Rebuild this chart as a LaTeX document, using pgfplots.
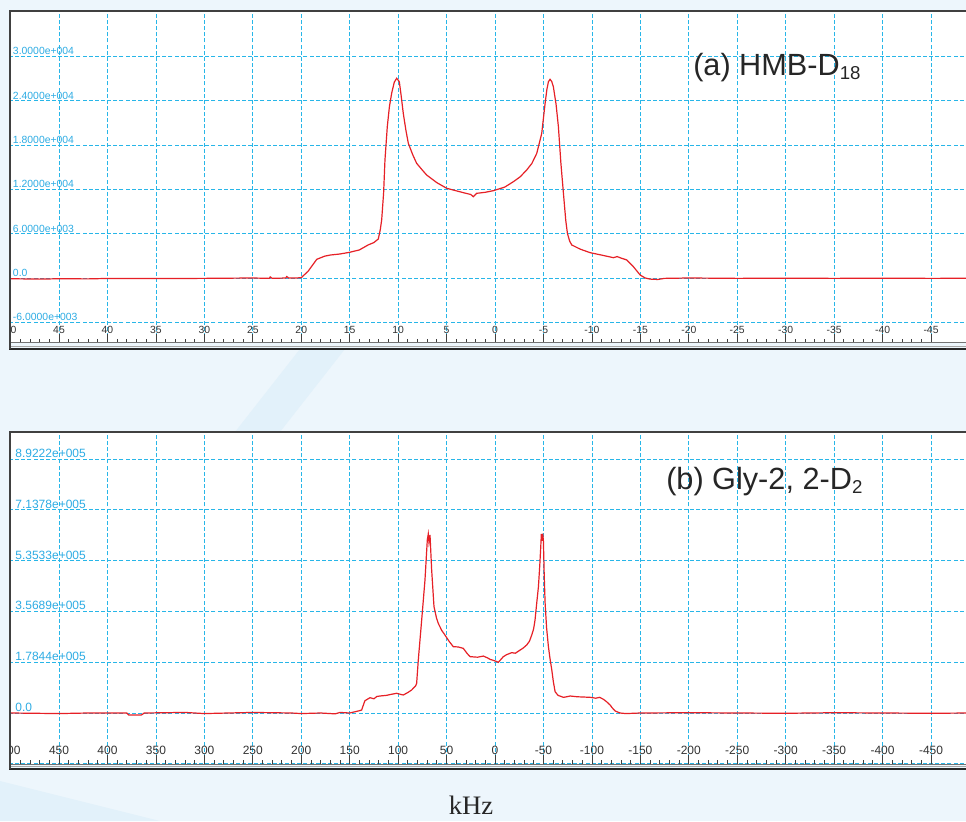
\documentclass[border=0pt]{standalone}
\usepackage{pgfplots}
\pgfplotsset{compat=1.18}
\usepackage{fontspec}
\setmainfont{Liberation Sans}
\newfontfamily\seriffont{Liberation Serif}

\definecolor{gridc}{RGB}{40,182,232}
\definecolor{labc}{RGB}{45,172,228}
\definecolor{curve}{RGB}{230,32,38}
\definecolor{bg}{RGB}{237,246,252}
\definecolor{bg2}{RGB}{226,241,250}

\pgfplotsset{spec/.style={
    scale only axis, width=719.4pt, height=249pt,
    anchor=south west,
    x dir=reverse,
    axis background/.style={fill=white},
    axis line style={draw=none},
    grid=major,
    major grid style={gridc, line width=0.6pt, dash pattern=on 3pt off 1.6pt},
    xtick pos=left, tick align=inside,
    major tick length=6.75pt, minor tick length=2.8pt,
    minor x tick num=4,
    ytick style={draw=none},
    xtick style={draw=black!75, line width=0.6pt},
    scaled ticks=false,
    /pgf/number format/assume math mode=true,
    yticklabel style={anchor=south west, inner sep=0pt, text=labc},
    xticklabel style={anchor=south, inner sep=0pt, text=black!80},
}}

\begin{document}
\begin{tikzpicture}[x=0.75pt,y=0.75pt]
\path[use as bounding box] (0,0) rectangle (966,821);
\fill[bg] (0,0) rectangle (966,821);
\fill[bg2] (235,389) -- (300,472) -- (345,472) -- (280,389) -- cycle;
\fill[bg2] (0,0) -- (0,40) -- (160,0) -- cycle;

\begin{scope}
\clip (9,0) rectangle (966,821);
% (a) HMB-D18
\begin{axis}[spec, at={(7.95pt,358.5pt)},
    xmin=-49, xmax=50, ymin=-8797, ymax=36138,
    xtick={-45,-40,...,50},
    ytick={-6000,0,6000,12000,18000,24000,30000},
    yticklabels={-6.0000e+003,0.0,6.0000e+003,1.2000e+004,1.8000e+004,2.4000e+004,3.0000e+004},
    yticklabel style={font=\fontsize{7.8}{8}\selectfont, xshift=1.6pt, yshift=0.8pt},
    xticklabel style={font=\fontsize{7.8}{8}\selectfont, yshift=7.2pt},
]
\addplot[curve, line width=0.9pt] coordinates {
(50,-100)(47,-150)(45,-100)(42,-120)(40,-60)(35,-80)(30,-50)(25,0)(23.3,-50)(23.2,150)(23,-50)
(21.6,0)(21.5,200)(21.3,0)(20.5,0)(20,50)(19.3,900)(18.4,2530)(17.6,2950)(17.0,3110)(16,3250)
(15,3480)(14,3800)(13.1,4470)(12.5,4800)(12.05,5280)(11.85,6500)(11.7,7850)(11.5,11500)
(11.36,15970)(11.12,20480)(10.9,23200)(10.67,25000)(10.4,26500)(10.15,27030)(9.88,26570)
(9.7,24800)(9.47,22290)(9.2,20000)(8.95,18230)(8.5,16700)(8.09,15520)(7.5,14600)(7.06,13940)
(6,12900)(4.99,12140)(4,11800)(3.27,11550)(2.5,11300)(2.24,11000)(1.89,11460)(1,11600)
(0.17,11820)(-1,12300)(-1.89,13030)(-2.6,13700)(-3.27,14620)(-3.8,15500)(-4.31,16880)
(-4.82,19580)(-5.17,23650)(-5.35,25500)(-5.51,26570)(-5.68,26890)(-5.85,26600)(-6.02,25890)
(-6.3,23500)(-6.54,20480)(-6.8,15500)(-7.06,11460)(-7.3,7800)(-7.47,6050)(-7.7,5000)
(-7.92,4470)(-8.8,3900)(-9.81,3430)(-11,3100)(-12.22,2750)(-12.6,2900)(-13,2700)(-13.6,2440)
(-14.3,1500)(-14.98,400)(-15.5,0)(-16,-150)(-16.8,-200)(-17.5,-50)(-20,0)(-25,-50)(-30,-30)
(-35,-50)(-40,-30)(-45,-50)(-49,-40)
};
\end{axis}

% (b) Gly-2, 2-D2
\begin{axis}[spec, at={(7.95pt,42.75pt)},
    xmin=-490, xmax=500, ymin=-179150, ymax=987100,
    xtick={-450,-400,...,500},
    ytick={-178444,0,178444,356888,535332,713776,892220},
    yticklabels={,0.0,1.7844e+005,3.5689e+005,5.3533e+005,7.1378e+005,8.9222e+005},
    yticklabel style={font=\fontsize{9}{10}\selectfont, xshift=3.4pt, yshift=0.8pt},
    xticklabel style={font=\fontsize{9}{10}\selectfont, yshift=7.2pt},
]
\addplot[curve, line width=0.9pt] coordinates {
(500,0)(450,-2000)(420,0)(380,0)(378,-7000)(365,-7000)(362,0)(320,2000)(300,-2000)(275,0)
(250,2000)(210,0)(200,-2000)(180,0)(165,-3000)(160,2000)(150,0)(145,4000)(140,8000)
(137.7,10500)(134.3,43200)(129.1,53800)(125,50000)(122,58000)(118.8,59700)(112,62000)
(108,65000)(101.6,69200)(98,66000)(94.7,63200)(90,72000)(86.1,80800)(82,95000)(80.9,104300)
(79.2,186200)(75.7,326700)(72.3,467200)(69.9,607700)(68.9,628800)(68.2,600000)(67.1,625300)
(66.2,560000)(65.4,502300)(63,373500)(60.5,335000)(58.6,315000)(55,290000)(51.7,274000)
(47,250000)(43.1,233000)(38,232000)(32.7,227000)(29,210000)(25.8,198000)(18,196000)
(12.1,200000)(8,194000)(5.2,188600)(0,183000)(-3.4,178000)(-6,188000)(-8.6,198000)
(-12,205000)(-17.2,212000)(-21,210000)(-25.8,221000)(-29,228000)(-32.7,239000)
(-35.5,252000)(-37.9,274000)(-39.8,295000)(-41.3,326700)(-43,385000)(-44.8,443700)
(-46.2,520000)(-47.2,584200)(-47.8,628800)(-48.6,605000)(-49.2,630000)(-49.9,607700)
(-50.8,480000)(-51.7,385300)(-53.2,300000)(-55.1,233000)(-56.8,190000)(-58.6,151000)
(-60.2,110000)(-62,74800)(-65,62000)(-70.6,55100)(-74,57000)(-77.5,59700)(-85,57000)
(-92,56000)(-98.1,55100)(-104,52000)(-108,55000)(-111.9,48100)(-115,40000)(-118.8,28100)
(-121,18000)(-124,7000)(-129,0)(-135,-2000)(-150,0)(-200,1000)(-250,0)(-300,-1000)
(-350,1000)(-400,0)(-450,-1000)(-490,0)
};
\end{axis}
\end{scope}

% frames
\draw[black!55, line width=0.75pt] (10,478) -- (966,478);
\draw[black!35, line width=0.75pt] (10,474.5) -- (966,474.5);
\draw[black!85, line width=1.6pt] (9,472) -- (966,472);
\draw[black!75, line width=1.6pt] (10,472) -- (10,810) -- (966,810);

\draw[black!55, line width=0.75pt] (10,57) -- (966,57);
\draw[black!35, line width=0.75pt] (10,54.5) -- (966,54.5);
\draw[black!85, line width=1.6pt] (9,52) -- (966,52);
\draw[black!75, line width=1.6pt] (10,52) -- (10,389) -- (966,389);

\node[anchor=base west, inner sep=0pt, text=black!85] at (693,745)
  {\fontsize{23}{26}\selectfont (a) HMB-D\raisebox{-3pt}{\fontsize{14}{16}\selectfont 18}};
\node[anchor=base west, inner sep=0pt, text=black!85] at (666,331)
  {\fontsize{23}{26}\selectfont (b) Gly-2, 2-D\raisebox{-3pt}{\fontsize{14}{16}\selectfont 2}};
\node[anchor=base, inner sep=0pt, text=black!85] at (471,7)
  {\seriffont\fontsize{20}{22}\selectfont kHz};
\end{tikzpicture}
\end{document}
